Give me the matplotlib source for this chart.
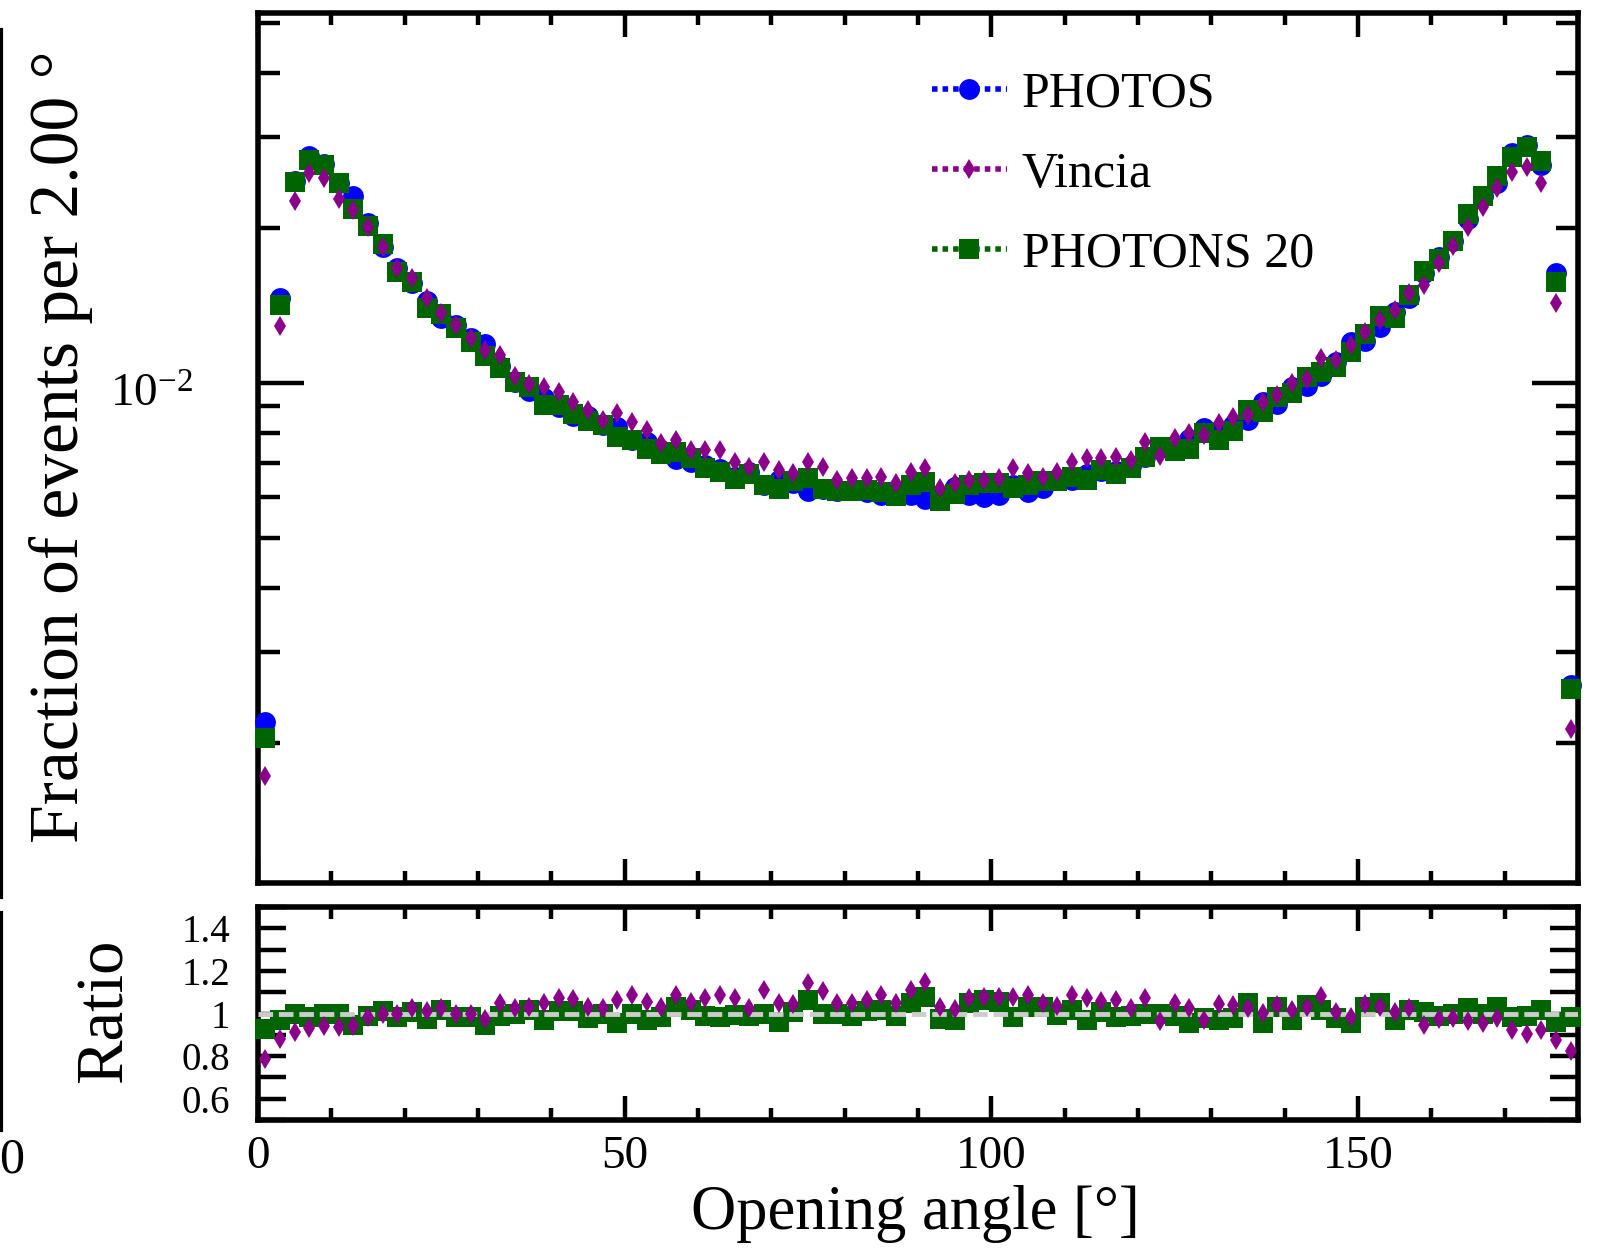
import numpy as np
import matplotlib
matplotlib.use("Agg")
import matplotlib.pyplot as plt
from matplotlib.lines import Line2D
from matplotlib.ticker import MultipleLocator, FixedLocator, FuncFormatter, NullFormatter, LogLocator

plt.rcParams['font.family'] = ['Liberation Serif', 'DejaVu Serif']
plt.rcParams['mathtext.fontset'] = 'custom'
plt.rcParams['mathtext.rm'] = 'Liberation Serif'
plt.rcParams['mathtext.it'] = 'Liberation Serif:italic'

# 2 degree bins, 0..180
bin_edges = np.arange(0, 182, 2)
angle = 0.5 * (bin_edges[:-1] + bin_edges[1:])

# fraction of events per bin
photos = [0.00220, 0.01462, 0.02466, 0.02753, 0.02657, 0.02440, 0.02306, 0.02040, 0.01840, 0.01670,
          0.01562, 0.01440, 0.01338, 0.01296, 0.01220, 0.01192, 0.01081, 0.01006, 0.00965, 0.00935,
          0.00898, 0.00863, 0.00861, 0.00828, 0.00821, 0.00774, 0.00768, 0.00740, 0.00713, 0.00702,
          0.00692, 0.00682, 0.00656, 0.00672, 0.00633, 0.00647, 0.00639, 0.00616, 0.00622, 0.00618,
          0.00623, 0.00614, 0.00605, 0.00610, 0.00606, 0.00594, 0.00606, 0.00627, 0.00605, 0.00601,
          0.00605, 0.00633, 0.00615, 0.00626, 0.00650, 0.00647, 0.00667, 0.00674, 0.00676, 0.00691,
          0.00718, 0.00750, 0.00743, 0.00780, 0.00818, 0.00799, 0.00827, 0.00847, 0.00919, 0.00912,
          0.00984, 0.00988, 0.01032, 0.01099, 0.01203, 0.01204, 0.01285, 0.01375, 0.01459, 0.01638,
          0.01757, 0.01888, 0.02083, 0.02306, 0.02444, 0.02790, 0.02903, 0.02650, 0.01632, 0.00259]

vincia = [0.001725, 0.0129, 0.02256, 0.0256, 0.0250, 0.0228, 0.0217, 0.0201, 0.0184, 0.0167,
          0.0160, 0.0146, 0.0137, 0.01296, 0.0122, 0.01159, 0.01133, 0.0103, 0.00996, 0.0098,
          0.00962, 0.0092, 0.00886, 0.00848, 0.00873, 0.00841, 0.0081, 0.00764, 0.00775, 0.00741,
          0.00741, 0.00741, 0.00703, 0.00688, 0.00703, 0.00678, 0.00668, 0.00703, 0.00688, 0.00648,
          0.00653, 0.00653, 0.00658, 0.00639, 0.00673, 0.00683, 0.00625, 0.00639, 0.00648, 0.00648,
          0.00653, 0.00683, 0.00668, 0.00658, 0.00673, 0.00703, 0.00714, 0.00714, 0.00719, 0.00708,
          0.00769, 0.00722, 0.00781, 0.00799, 0.00793, 0.00835, 0.0086, 0.00867, 0.0092, 0.00948,
          0.0100, 0.0102, 0.01117, 0.01108, 0.01185, 0.01258, 0.01326, 0.01386, 0.01494, 0.0155,
          0.01708, 0.01845, 0.02012, 0.0220, 0.02388, 0.02572, 0.0263, 0.02443, 0.01428, 0.00213]

photons = [0.00204, 0.01420, 0.02460, 0.02710, 0.02650, 0.02440, 0.02180, 0.02020, 0.01860, 0.01645,
           0.01570, 0.01400, 0.01360, 0.01277, 0.01200, 0.01130, 0.01070, 0.01006, 0.00980, 0.00907,
           0.00907, 0.00872, 0.00844, 0.00828, 0.00784, 0.00774, 0.00745, 0.00729, 0.00734, 0.00714,
           0.00685, 0.00672, 0.00650, 0.00665, 0.00633, 0.00621, 0.00645, 0.00655, 0.00622, 0.00618,
           0.00617, 0.00620, 0.00615, 0.00604, 0.00635, 0.00641, 0.00591, 0.00608, 0.00634, 0.00639,
           0.00638, 0.00624, 0.00635, 0.00646, 0.00645, 0.00657, 0.00647, 0.00679, 0.00666, 0.00684,
           0.00718, 0.00750, 0.00736, 0.00745, 0.00799, 0.00775, 0.00808, 0.00888, 0.00878, 0.00941,
           0.00955, 0.01028, 0.01049, 0.01074, 0.01149, 0.01242, 0.01347, 0.01334, 0.01482, 0.01651,
           0.01740, 0.01888, 0.02133, 0.02306, 0.02522, 0.02748, 0.02874, 0.02692, 0.01570, 0.00255]

labels = ["PHOTOS", "Vincia", "PHOTONS 20"]
colors = ["#0000ff", "#8b008b", "#006400"]

photos = np.array(photos)
ratio_vincia = np.array(vincia) / photos
ratio_photons = np.array(photons) / photos

fig = plt.figure(figsize=(16.03, 12.48), dpi=100)
W, H = 1603.0, 1248.0
ax1 = fig.add_axes([258 / W, 1 - 883 / H, 1320 / W, 870 / H])
ax2 = fig.add_axes([258 / W, 1 - 1120 / H, 1320 / W, 213 / H])

ms_c, ms_s, ms_d = 15, 14, 10.5
ax1.plot(angle, photos, 'o', color=colors[0], ms=ms_c, mew=0, zorder=3, clip_on=False)
ax1.plot(angle, photons, 's', color=colors[2], ms=ms_s, mew=0, zorder=4, clip_on=False)
ax1.plot(angle, vincia, 'd', color=colors[1], ms=ms_d, mew=0, zorder=5, clip_on=False)

ax1.set_yscale('log')
ax1.set_xlim(0, 180)
ax1.set_ylim(0.001069, 0.05228)
ax1.yaxis.set_major_locator(FixedLocator([0.01]))
ax1.yaxis.set_major_formatter(NullFormatter())
ax1.yaxis.set_minor_locator(LogLocator(base=10, subs=np.arange(2, 10)))
ax1.yaxis.set_minor_formatter(NullFormatter())
# label of the 10^-2 tick, sitting a bit below the tick as in the original
ax1.annotate(r'$10^{-2}$', xy=(0, 0.01), xycoords=ax1.get_yaxis_transform(),
             xytext=(-47, -17), textcoords='offset points',
             ha='right', va='baseline', fontsize=34)

ax2.plot(angle, ratio_photons, 's', color=colors[2], ms=ms_s, mew=0, zorder=3, clip_on=False)
ax2.axhline(1.0, color='#cccccc', lw=3.5, ls=(0, (3, 1.2)), zorder=3.5)
ax2.plot(angle, ratio_vincia, 'd', color=colors[1], ms=ms_d, mew=0, zorder=5, clip_on=False)
ax2.set_xlim(0, 180)
ax2.set_ylim(0.5, 1.5)
ax2.yaxis.set_major_locator(MultipleLocator(0.2))
ax2.yaxis.set_minor_locator(MultipleLocator(0.1))
ax2.yaxis.set_major_formatter(FuncFormatter(lambda v, p: '%g' % round(v, 2)))

for ax in (ax1, ax2):
    for s in ax.spines.values():
        s.set_linewidth(4)
    ax.xaxis.set_major_locator(MultipleLocator(50))
    ax.xaxis.set_minor_locator(MultipleLocator(10))
    ax.tick_params(which='both', direction='in', top=True, right=True, width=3.2)
    ax.tick_params(axis='x', which='major', length=17)
    ax.tick_params(axis='x', which='minor', length=8.5)

ax1.tick_params(axis='x', labelbottom=False)
ax1.tick_params(axis='y', which='major', length=33)
ax1.tick_params(axis='y', which='minor', length=16)
ax2.tick_params(axis='y', which='both', length=20, pad=20, labelsize=28)
ax2.tick_params(axis='x', labelsize=34, pad=11)

fig.text(61 / W, 1 - 447 / H, "Fraction of events per 2.00 °", rotation=90,
         ha='center', va='center', fontsize=50)
fig.text(105 / W, 1 - 1011 / H, "Ratio", rotation=90, ha='center', va='center', fontsize=48)
fig.text(915 / W, 1 - 1214 / H, "Opening angle [°]", ha='center', va='center', fontsize=45)

markers = ['o', 'd', 's']
sizes = [ms_c, ms_d, ms_s]
handles = [Line2D([], [], color=c, ls=(0, (1.0, 0.9)), lw=4, marker=m, ms=s, mew=0)
           for c, m, s in zip(colors, markers, sizes)]
ax1.legend(handles, labels, loc='upper left', bbox_to_anchor=(0.5106, 0.933),
           frameon=False, borderpad=0, borderaxespad=0, fontsize=36,
           handlelength=1.5, handletextpad=0.3, labelspacing=0.67)

# edge of the neighbouring panel, cut off on the left
fig.add_artist(Line2D([1 / W, 1 / W], [1 - 30 / H, 1 - 897 / H], color='black', lw=3,
                      transform=fig.transFigure))
fig.add_artist(Line2D([1 / W, 1 / W], [1 - 913 / H, 1 - 1130 / H], color='black', lw=3,
                      transform=fig.transFigure))
fig.text(-1 / W, 1 - 1160 / H, "0", ha='left', va='center', fontsize=36)

fig.savefig("out.png", dpi=100)
